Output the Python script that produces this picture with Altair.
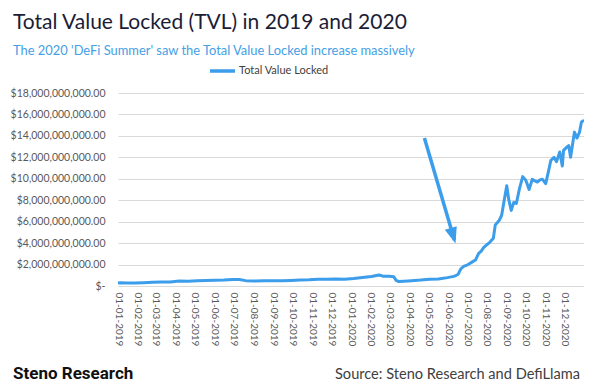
import altair as alt
import pandas as pd

# ---------------- data ----------------
dates = [
    "2019-01-01", "2019-01-05", "2019-01-15", "2019-01-28", "2019-02-10", "2019-02-24",
    "2019-03-10", "2019-03-24", "2019-04-07", "2019-04-21", "2019-05-05", "2019-05-19",
    "2019-06-02", "2019-06-16", "2019-06-30", "2019-07-10", "2019-07-20", "2019-08-04",
    "2019-08-18", "2019-09-01", "2019-09-15", "2019-09-29", "2019-10-13", "2019-10-27",
    "2019-11-10", "2019-11-24", "2019-12-08", "2019-12-22", "2020-01-05", "2020-01-19",
    "2020-02-02", "2020-02-14", "2020-02-20", "2020-03-01", "2020-03-08", "2020-03-12",
    "2020-03-16", "2020-03-24", "2020-04-05", "2020-04-19", "2020-05-03", "2020-05-17",
    "2020-05-31", "2020-06-10", "2020-06-14", "2020-06-17", "2020-06-21", "2020-06-26",
    "2020-07-01", "2020-07-05", "2020-07-09", "2020-07-14", "2020-07-19", "2020-07-23",
    "2020-07-27", "2020-08-01", "2020-08-05", "2020-08-11", "2020-08-14", "2020-08-17",
    "2020-08-20", "2020-08-24", "2020-08-28", "2020-09-01", "2020-09-04", "2020-09-08",
    "2020-09-12", "2020-09-16", "2020-09-21", "2020-09-26", "2020-10-01", "2020-10-06",
    "2020-10-11", "2020-10-15", "2020-10-19", "2020-10-23", "2020-10-27", "2020-11-01",
    "2020-11-05", "2020-11-09", "2020-11-14", "2020-11-18", "2020-11-23", "2020-11-27",
    "2020-11-29", "2020-12-03", "2020-12-07", "2020-12-10", "2020-12-16", "2020-12-20",
    "2020-12-24", "2020-12-27", "2020-12-31",
]
tvl_billions = [
    0.27, 0.30, 0.29, 0.28, 0.31, 0.34,
    0.37, 0.38, 0.46, 0.44, 0.48, 0.52,
    0.54, 0.55, 0.61, 0.60, 0.50, 0.47,
    0.48, 0.50, 0.49, 0.52, 0.55, 0.58,
    0.64, 0.62, 0.66, 0.63, 0.70, 0.80,
    0.88, 1.02, 0.92, 0.90, 0.86, 0.50,
    0.42, 0.45, 0.50, 0.55, 0.62, 0.66,
    0.78, 0.90, 1.00, 1.10, 1.60, 1.85,
    1.95, 2.10, 2.25, 2.42, 3.05, 3.25,
    3.60, 3.85, 4.05, 4.45, 5.70, 5.90,
    6.10, 6.60, 8.00, 9.35, 8.10, 7.05,
    7.80, 7.70, 9.10, 10.20, 9.85, 9.00,
    9.95, 9.80, 9.70, 9.90, 9.95, 9.55,
    10.60, 11.70, 12.00, 11.60, 12.50, 11.20,
    12.65, 12.90, 13.10, 12.00, 14.35, 13.80,
    14.35, 15.30, 15.45,
]
series_name = "Total Value Locked"
y_ticks_billions = [0, 2, 4, 6, 8, 10, 12, 14, 16, 18]
month_ticks = [(y, m) for y in (2019, 2020) for m in range(1, 13)]

arrow_dates = ["2020-04-25", "2020-06-11"]
arrow_values_billions = [13.8, 4.3]

title_text = "Total Value Locked (TVL) in 2019 and 2020"
subtitle_text = "The 2020 'DeFi Summer' saw the Total Value Locked increase massively"
source_text = "Source: Steno Research and DefiLlama"
logo_text = "Steno Research"

# ---------------- styling ----------------
LINE = "#3c9deb"
GRID = "#d9d9d9"
LABEL = "#595959"
FONT = "Lato"

df = pd.DataFrame({"date": pd.to_datetime(dates), "tvl": [v * 1e9 for v in tvl_billions]})
df["series"] = series_name
arrow_df = pd.DataFrame({"date": pd.to_datetime(arrow_dates),
                         "tvl": [v * 1e9 for v in arrow_values_billions]})
tip_df = arrow_df.iloc[[1]]

x_scale = alt.Scale(domain=[alt.DateTime(year=2019, month=1, date=1),
                            alt.DateTime(year=2020, month=12, date=31)])
y_scale = alt.Scale(domain=[0, 18e9])

x_axis = alt.Axis(
    values=[alt.DateTime(year=y, month=m, date=1) for y, m in month_ticks],
    format="%d-%m-%Y", labelAngle=90, labelFont=FONT, labelFontSize=10,
    labelColor=LABEL, ticks=False, labelPadding=6, grid=False,
    domainColor=GRID, labelOverlap=False, labelFlush=False,
)
y_axis = alt.Axis(
    values=[v * 1e9 for v in y_ticks_billions],
    labelExpr="datum.value == 0 ? '$-\u00a0\u00a0\u00a0' : '$' + format(datum.value, ',.2f')",
    labelFont=FONT, labelFontSize=10.5, labelColor=LABEL, ticks=False,
    labelPadding=13, domain=False, grid=True, gridColor=GRID, gridWidth=1,
    labelOverlap=False,
)


def x_enc():
    return alt.X("date:T", scale=x_scale, title=None, axis=x_axis)


def y_enc():
    return alt.Y("tvl:Q", scale=y_scale, title=None, axis=y_axis)


line = alt.Chart(df).mark_line(color=LINE, strokeWidth=3, strokeJoin="round").encode(
    x=x_enc(), y=y_enc()
)

arrow_shaft = alt.Chart(arrow_df).mark_line(color=LINE, strokeWidth=3.5).encode(
    x=x_enc(), y=y_enc()
)
arrow_head = alt.Chart(tip_df).mark_point(
    shape="M0,0.3L-0.5,-1L0.5,-1Z", filled=True, color=LINE, opacity=1,
    size=620, angle=343, strokeWidth=0,
).encode(x=x_enc(), y=y_enc())


def text_layer(txt, x, y, **kw):
    return alt.Chart(pd.DataFrame({"t": [txt]})).mark_text(**kw).encode(
        text="t:N", x=alt.value(x), y=alt.value(y)
    )


title = text_layer(title_text, -105, -64, font=FONT, fontSize=21, color="#1b1d36",
                   align="left", baseline="alphabetic")
subtitle = text_layer(subtitle_text, -105, -38, font=FONT, fontSize=12.9, color="#45a0e6",
                      align="left", baseline="alphabetic")
legend_line = alt.Chart(pd.DataFrame({"s": [series_name]})).mark_rule(
    color=LINE, strokeWidth=3.5
).encode(x=alt.value(92), x2=alt.value(117), y=alt.value(-22))
legend_text = alt.Chart(pd.DataFrame({"s": [series_name]})).mark_text(
    font=FONT, fontSize=11, color="#404040", align="left", baseline="middle"
).encode(text="s:N", x=alt.value(121), y=alt.value(-22))
source = text_layer(source_text, 462, 286, font=FONT, fontSize=14.6, color="#404040",
                    align="right", baseline="alphabetic")
logo = text_layer(logo_text, -105, 286, font="Roboto",
                  fontSize=17, fontWeight="bold", color="#111111",
                  align="left", baseline="alphabetic")

chart = alt.layer(
    line, arrow_shaft, arrow_head, title, subtitle, legend_line, legend_text, source, logo
).properties(
    width=466, height=193,
    autosize=alt.AutoSizeParams(type="none"),
    padding={"left": 110, "top": 85, "right": 0, "bottom": 98},
    background="white",
).configure_view(stroke=None)

chart.save("out.html", embed_options={"renderer": "svg", "actions": False})
